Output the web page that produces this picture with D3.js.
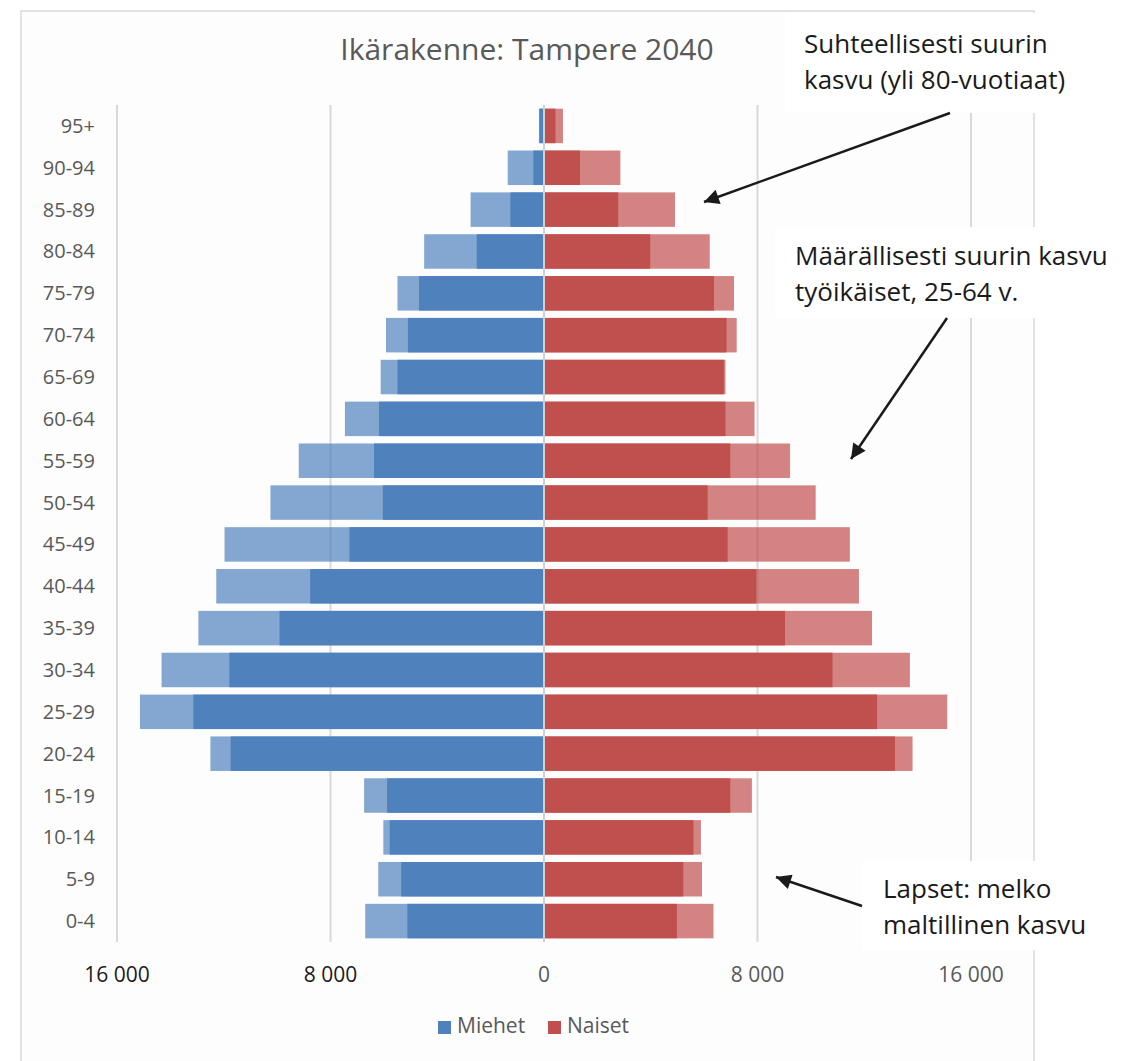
<!DOCTYPE html>
<html>
<head>
<meta charset="utf-8">
<script src="https://cdn.jsdelivr.net/npm/d3@7"></script>
<style>
  body { margin: 0; background: #ffffff; }
  text { font-family: "Open Sans", sans-serif; }
</style>
</head>
<body>
<div id="chart"></div>
<script>
// age groups, top to bottom
const ageGroups = ["95+", "90-94", "85-89", "80-84", "75-79", "70-74", "65-69", "60-64", "55-59", "50-54",
    "45-49", "40-44", "35-39", "30-34", "25-29", "20-24", "15-19", "10-14", "5-9", "0-4"];

// nykytilanne (tummat palkit)
const menNow = [170, 400, 1260, 2520, 4680, 5100, 5490, 6180, 6370, 6040,
    7290, 8760, 9910, 11790, 13140, 11740, 5880, 5780, 5350, 5120];
const womenNow = [430, 1350, 2780, 3980, 6370, 6840, 6740, 6800, 6980, 6130,
    6880, 7960, 9030, 10810, 12480, 13150, 6980, 5600, 5220, 4980];

// ennuste 2040 (vaaleat palkit)
const men2040 = [190, 1360, 2750, 4490, 5490, 5920, 6120, 7460, 9190, 10250,
    11970, 12280, 12950, 14330, 15140, 12500, 6740, 6020, 6210, 6700];
const women2040 = [710, 2860, 4910, 6210, 7120, 7220, 6800, 7890, 9220, 10180,
    11460, 11800, 12290, 13710, 15110, 13810, 7790, 5880, 5920, 6350];

const tickValues = [-16000, -8000, 0, 8000, 16000];
const seriesNames = ["Miehet", "Naiset"];
const seriesColors = ["#4F81BD", "#C0504D"];

const width = 1127, height = 1061;

const svg = d3.select("#chart").append("svg")
    .attr("width", width)
    .attr("height", height);

// chart area
svg.append("rect")
    .attr("x", 21).attr("y", 11)
    .attr("width", 1013).attr("height", height)
    .attr("fill", "#fdfdfd")
    .attr("stroke", "#d9d9d9")
    .attr("stroke-width", 1.5);

svg.append("text")
    .attr("x", 527).attr("y", 60)
    .attr("text-anchor", "middle")
    .attr("font-size", 30)
    .attr("fill", "#595959")
    .text("Ikärakenne: Tampere 2040");

const x = d3.scaleLinear().domain([-16000, 16000]).range([117, 971]);
const y = d3.scaleBand().domain(ageGroups).range([105, 942]).paddingInner(0.176).paddingOuter(0.088);

// gridlines
svg.append("g")
    .selectAll("line")
    .data(tickValues.filter(d => d !== 0))
    .join("line")
    .attr("x1", d => x(d)).attr("x2", d => x(d))
    .attr("y1", 105).attr("y2", 942)
    .attr("stroke", "#d9d9d9")
    .attr("stroke-width", 2);

function rows(left, right) {
    return ageGroups.map((a, i) => ({age: a, m: left[i], w: right[i]}));
}

function drawBars(data, opacity) {
    const g = svg.append("g").attr("fill-opacity", opacity);
    g.selectAll(".m")
        .data(data)
        .join("rect")
        .attr("x", d => x(-d.m))
        .attr("y", d => y(d.age))
        .attr("width", d => x(0) - x(-d.m) - 1)
        .attr("height", y.bandwidth())
        .attr("fill", seriesColors[0]);
    g.selectAll(".w")
        .data(data)
        .join("rect")
        .attr("x", x(0) + 1)
        .attr("y", d => y(d.age))
        .attr("width", d => x(d.w) - x(0) - 1)
        .attr("height", y.bandwidth())
        .attr("fill", seriesColors[1]);
}

drawBars(rows(men2040, women2040), 0.7);
drawBars(rows(menNow, womenNow), 1);

// zero line
svg.append("line")
    .attr("x1", x(0)).attr("x2", x(0))
    .attr("y1", 105).attr("y2", 942)
    .attr("stroke", "#d0d0d0")
    .attr("stroke-width", 2);

// category labels
svg.append("g")
    .selectAll("text")
    .data(ageGroups)
    .join("text")
    .attr("x", 95)
    .attr("y", d => y(d) + y.bandwidth() / 2)
    .attr("dy", "0.35em")
    .attr("text-anchor", "end")
    .attr("font-size", 20)
    .attr("fill", "#595959")
    .text(d => d);

// value axis labels
const fmt = d => d === 0 ? "0" : d3.format(",")(Math.abs(d)).replace(",", " ");
svg.append("g")
    .selectAll("text")
    .data(tickValues)
    .join("text")
    .attr("x", d => x(d))
    .attr("y", 982)
    .attr("text-anchor", "middle")
    .attr("font-size", 21)
    .attr("fill", d => d < 0 ? "#1a1a1a" : "#595959")
    .text(fmt);

// legend
const legendX = [438, 548];
const legend = svg.append("g")
    .selectAll("g")
    .data(seriesNames)
    .join("g")
    .attr("transform", (d, i) => `translate(${legendX[i]},1021)`);
legend.append("rect")
    .attr("width", 13).attr("height", 13)
    .attr("fill", (d, i) => seriesColors[i]);
legend.append("text")
    .attr("x", 19).attr("y", 12)
    .attr("font-size", 21)
    .attr("fill", "#595959")
    .text(d => d);

// annotations
svg.append("defs").append("marker")
    .attr("id", "head")
    .attr("markerUnits", "userSpaceOnUse")
    .attr("viewBox", "0 0 10 10")
    .attr("refX", 10).attr("refY", 5)
    .attr("markerWidth", 18).attr("markerHeight", 15)
    .attr("orient", "auto")
    .append("path")
    .attr("d", "M0,0L10,5L0,10Z")
    .attr("fill", "#1a1a1a");

const notes = [
    {box: [785, 13, 342, 100], tx: 804, lines: ["Suhteellisesti suurin", "kasvu (yli 80-vuotiaat)"], base: 53, arrow: [950, 113, 704, 202]},
    {box: [775, 227, 352, 91], tx: 795, lines: ["Määrällisesti suurin kasvu", "työikäiset, 25-64 v."], base: 265, arrow: [947, 318, 851, 459]},
    {box: [862, 861, 265, 89], tx: 883, lines: ["Lapset: melko", "maltillinen kasvu"], base: 898, arrow: [862, 906, 776, 877]}
];

notes.forEach(n => {
    svg.append("rect")
        .attr("x", n.box[0]).attr("y", n.box[1])
        .attr("width", n.box[2]).attr("height", n.box[3])
        .attr("fill", "#ffffff");
    n.lines.forEach((t, i) => {
        svg.append("text")
            .attr("x", n.tx).attr("y", n.base + i * 36)
            .attr("font-size", 26)
            .attr("fill", "#1a1a1a")
            .text(t);
    });
    svg.append("line")
        .attr("x1", n.arrow[0]).attr("y1", n.arrow[1])
        .attr("x2", n.arrow[2]).attr("y2", n.arrow[3])
        .attr("stroke", "#1a1a1a")
        .attr("stroke-width", 2.5)
        .attr("marker-end", "url(#head)");
});
</script>
</body>
</html>
